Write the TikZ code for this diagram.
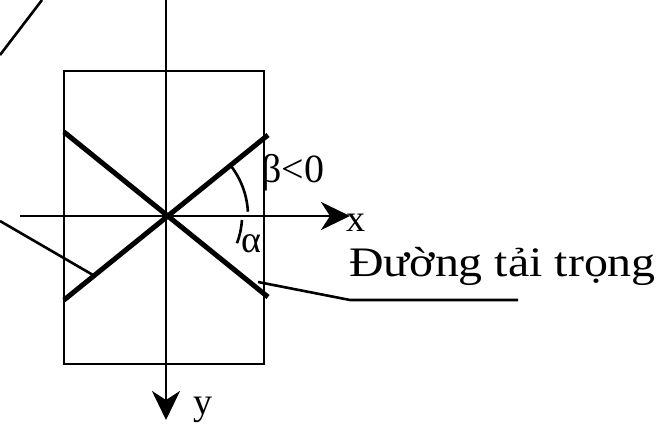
\documentclass[tikz,border=0pt]{standalone}
\usepackage{fontspec}
\setmainfont{Liberation Serif}
\newfontfamily\widefont[FakeStretch=1.14]{Liberation Serif}
\usetikzlibrary{arrows.meta, positioning}

\begin{document}
\begin{tikzpicture}[
    x=1pt, y=1pt,
    thin line/.style={draw, line width=2.6pt},
    load line/.style={draw, line width=5pt},
    axis/.style={thin line, -{Stealth[length=29pt, width=28pt, inset=9pt]}},
    every node/.style={font=\fontsize{38}{44}\selectfont, inner sep=0pt}
]
\useasboundingbox (0,0) rectangle (657,432);

\coordinate (O) at (166,216);

% section outline
\draw[thin line] (64,68) rectangle (264,361);

% axes
\coordinate (xstart) at (20,216);
\coordinate (xend) at (350,216);
\coordinate (ystart) at (166,432);
\coordinate (yend) at (166,12);
\draw[axis] (xstart) -- (xend);
\draw[axis] (ystart) -- (yend);
\node (xlabel) at (356,209) {x};
\node (ylabel) at (203,22) {y};

% load lines
\coordinate (d1) at (64,300);
\coordinate (d2) at (268,135);
\coordinate (a1) at (64,132);
\coordinate (a2) at (268,297);
\draw[load line] (d1) -- (d2);
\draw[load line] (a1) -- (a2);

% angles
\draw[thin line] (O) ++(3:82) arc[start angle=3, end angle=37, radius=82];
\draw[thin line] (O) ++(-3:76) arc[start angle=-3, end angle=-21, radius=76];
\node (beta) at (293,259) {\fontsize{40}{44}\selectfont β<0};
\node (alpha) at (251,188) {α};

% leaders
\node[anchor=base west, font=\widefont\fontsize{42}{48}\selectfont] (loadtext) at (349,155) {Đường tải trọng};
\coordinate (p1) at (258,150);
\coordinate (p2) at (350,132);
\coordinate (p3) at (518,132);
\draw[thin line] (p1) -- (p2) -- (p3);
\coordinate (q1) at (0,211);
\coordinate (q2) at (93,157);
\draw[thin line] (q1) -- (q2);
\coordinate (r1) at (0,377);
\coordinate (r2) at (42,432);
\draw[thin line] (r1) -- (r2);
\end{tikzpicture}
\end{document}
